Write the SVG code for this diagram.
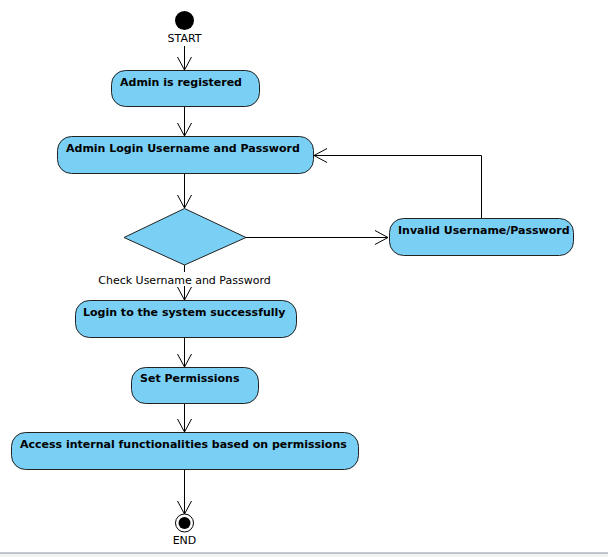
<svg xmlns="http://www.w3.org/2000/svg" width="608" height="557" viewBox="0 0 608 557">
<style>
.act{fill:#79CFF4;stroke:#222;stroke-width:1}
.t{font-family:"DejaVu Sans",sans-serif;font-weight:bold;font-size:11px;fill:#000}
.l{font-family:"DejaVu Sans",sans-serif;font-size:11px;fill:#000}
.c{fill:none;stroke:#000;stroke-width:1}
</style>
<defs>
<marker id="a" markerWidth="16" markerHeight="16" refX="14" refY="8" orient="auto" markerUnits="userSpaceOnUse">
<path d="M1,1 L14,8 L1,15" fill="none" stroke="#000" stroke-width="1"/>
</marker>
</defs>
<rect x="0" y="0" width="608" height="557" fill="#fff"/>
<g id="connectors">
<line class="c" x1="184.5" y1="46" x2="184.5" y2="70" marker-end="url(#a)"/>
<line class="c" x1="184.5" y1="107" x2="184.5" y2="136" marker-end="url(#a)"/>
<line class="c" x1="184.5" y1="174" x2="184.5" y2="208" marker-end="url(#a)"/>
<line class="c" x1="246" y1="237.5" x2="388" y2="237.5" marker-end="url(#a)"/>
<polyline class="c" points="481.5,218 481.5,155.5 314,155.5" marker-end="url(#a)"/>
<line class="c" x1="184.5" y1="265" x2="184.5" y2="272"/>
<line class="c" x1="184.5" y1="286" x2="184.5" y2="300" marker-end="url(#a)"/>
<text class="l" x="184.5" y="284" text-anchor="middle">Check Username and Password</text>
<line class="c" x1="184.5" y1="338" x2="184.5" y2="367" marker-end="url(#a)"/>
<line class="c" x1="184.5" y1="404" x2="184.5" y2="432" marker-end="url(#a)"/>
<line class="c" x1="184.5" y1="470" x2="184.5" y2="514" marker-end="url(#a)"/>
</g>
<g id="start">
<circle cx="184.5" cy="20.5" r="9.5" fill="#000"/>
<text class="l" x="184.5" y="42" text-anchor="middle">START</text>
</g>
<g id="registered">
<rect class="act" x="111.5" y="70.5" width="148" height="36" rx="14"/>
<text class="t" x="120" y="86">Admin is registered</text>
</g>
<g id="login">
<rect class="act" x="57.5" y="136.5" width="256" height="37" rx="14"/>
<text class="t" x="66" y="152">Admin Login Username and Password</text>
</g>
<g id="decision">
<polygon class="act" points="184.5,208.5 246,237.5 184.5,265 124,237.5"/>
</g>
<g id="invalid">
<rect class="act" x="389.5" y="218.5" width="184" height="37" rx="14"/>
<text class="t" x="398" y="234">Invalid Username/Password</text>
</g>
<g id="success">
<rect class="act" x="75.5" y="300.5" width="221" height="37" rx="14"/>
<text class="t" x="83" y="316">Login to the system successfully</text>
</g>
<g id="permissions">
<rect class="act" x="131.5" y="367.5" width="127" height="36" rx="14"/>
<text class="t" x="140" y="382">Set Permissions</text>
</g>
<g id="access">
<rect class="act" x="11.5" y="432.5" width="347" height="37" rx="14"/>
<text class="t" x="20" y="448">Access internal functionalities based on permissions</text>
</g>
<g id="end">
<circle cx="184.5" cy="523" r="9" fill="#fff" stroke="#000" stroke-width="1"/>
<circle cx="184.5" cy="523" r="6" fill="#000"/>
<text class="l" x="184.5" y="544" text-anchor="middle">END</text>
</g>
<rect x="0" y="553" width="608" height="4" fill="#f2f2f2"/>
<line x1="0" y1="553" x2="608" y2="553" stroke="#8a939e" stroke-width="1"/>
</svg>
